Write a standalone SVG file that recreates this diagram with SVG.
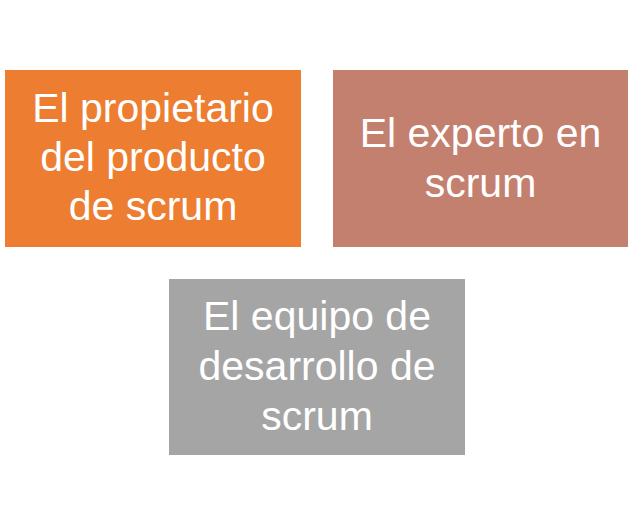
<svg xmlns="http://www.w3.org/2000/svg" width="641" height="526" viewBox="0 0 641 526">
<style>
.t{font-family:"Liberation Sans",Arial,sans-serif;font-size:41px;fill:#ffffff;text-anchor:middle}
</style>
<rect width="641" height="526" fill="#ffffff"/>
<g id="connectors"></g>
<g id="node-propietario">
<rect x="5" y="70" width="296" height="177" fill="#ED7D31"/>
<text class="t" x="153" y="122">El propietario</text>
<text class="t" x="153" y="171">del producto</text>
<text class="t" x="153" y="220">de scrum</text>
</g>
<g id="node-experto">
<rect x="333" y="70" width="295" height="177" fill="#C4806F"/>
<text class="t" x="480.5" y="147">El experto en</text>
<text class="t" x="480.5" y="197">scrum</text>
</g>
<g id="node-equipo">
<rect x="169" y="279" width="296" height="176" fill="#A5A5A5"/>
<text class="t" x="317" y="330">El equipo de</text>
<text class="t" x="317" y="380">desarrollo de</text>
<text class="t" x="317" y="430">scrum</text>
</g>
</svg>
